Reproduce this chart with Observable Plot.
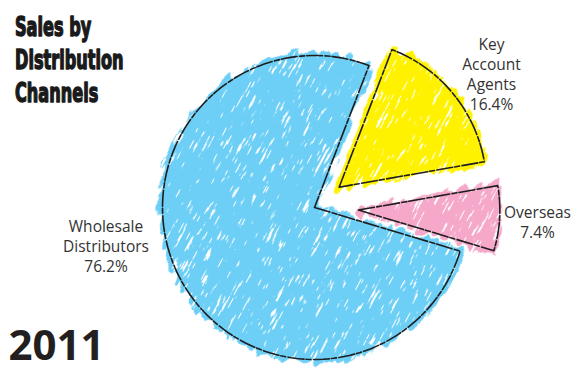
<!DOCTYPE html>
<html>
<head>
<meta charset="utf-8">
<script src="https://cdn.jsdelivr.net/npm/d3@7"></script>
<script src="https://cdn.jsdelivr.net/npm/@observablehq/plot@0.6"></script>
<style>
  html, body { margin: 0; padding: 0; background: #fff; }
  #chart svg { display: block; }
</style>
</head>
<body>
<div id="chart"></div>
<script>
// ---- data ----
const categories = ["Key Account Agents", "Overseas", "Wholesale Distributors"];
const labelText = ["Key\nAccount\nAgents", "Overseas", "Wholesale\nDistributors"];
const shares = [16.4, 7.4, 76.2];
const titleText = "Sales by\nDistribution\nChannels";
const yearText = "2011";

// ---- layout / style ----
const colors = ["#FFF200", "#F5A8CA", "#6DCFF6"];
const startDeg = 21;
const explode = [0.21, 0.29, 0];
const sliceRadius = [0.97, 0.93, 1];
const labelDist = [1.46, 1.47, 1.394];
const labelShift = [2.4, 0.2, 15.9];
const W = 580, H = 368, R = 152, CX = 314, CY = 207;

const rad = Math.PI / 180;
const arcs = d3.pie().sort(null).value(d => d)
  .startAngle(startDeg * rad).endAngle(startDeg * rad + 2 * Math.PI)(shares);

const slices = arcs.map((a, i) => {
  const mid = (a.startAngle + a.endAngle) / 2;
  const ox = explode[i] * Math.sin(mid), oy = explode[i] * Math.cos(mid);
  const r = sliceRadius[i];
  const n = Math.max(8, Math.round((a.endAngle - a.startAngle) / (2 * rad)));
  const pts = [{x: ox, y: oy}];
  for (let k = 0; k <= n; k++) {
    const t = a.startAngle + (a.endAngle - a.startAngle) * k / n;
    pts.push({x: ox + r * Math.sin(t), y: oy + r * Math.cos(t)});
  }
  pts.push({x: ox, y: oy});
  const la = mid + labelShift[i] * rad;
  return {
    name: categories[i], color: colors[i], pts,
    label: {x: labelDist[i] * Math.sin(la), y: labelDist[i] * Math.cos(la),
            text: labelText[i] + "\n" + shares[i].toFixed(1) + "%"}
  };
});

const marks = [];
for (const s of slices) {
  marks.push(Plot.line(s.pts, {x: "x", y: "y", fill: s.color, stroke: s.color, strokeWidth: 7,
    strokeLinejoin: "round", curve: "linear", ariaDescription: "slicefill"}));
}
for (const s of slices) {
  marks.push(Plot.line(s.pts, {x: "x", y: "y", stroke: "#1e1e1e", strokeWidth: 1.6,
    strokeDasharray: "16,2.5,5,2", curve: "linear"}));
}
marks.push(Plot.text(slices.map(s => s.label), {x: "x", y: "y", text: "text",
  fontSize: 15.5, lineHeight: 1.3, fill: "#333", fontFamily: "Open Sans"}));
marks.push(Plot.text([titleText], {text: d => d, frameAnchor: "top-left", textAnchor: "start",
  lineAnchor: "top", fontSize: 26, fontWeight: "bold",
  fontFamily: "DejaVu Sans Condensed", lineHeight: 1.27, fill: "#1a1a1a",
  stroke: "#1a1a1a", strokeWidth: 1.4, ariaDescription: "charttitle"}));
marks.push(Plot.text([yearText], {text: d => d, frameAnchor: "top-left", textAnchor: "start",
  lineAnchor: "top", dx: 8, dy: 330, fontSize: 42, fontWeight: "bold",
  fontFamily: "Open Sans", fill: "#231f20"}));

const chart = Plot.plot({
  width: W, height: H, margin: 0,
  x: {domain: [-CX / R, (W - CX) / R], axis: null},
  y: {domain: [-(H - CY) / R, CY / R], axis: null},
  marks
});

// hand-drawn scribble texture (sparse diagonal white flecks, rough edges)
const ns = "http://www.w3.org/2000/svg";
const defs = document.createElementNS(ns, "defs");
defs.innerHTML = `
<filter id="scribble" x="-10%" y="-10%" width="120%" height="120%">
  <feTurbulence type="fractalNoise" baseFrequency="0.04 0.12" numOctaves="2" seed="4" result="noise"/>
  <feDisplacementMap in="SourceGraphic" in2="noise" scale="16" xChannelSelector="R" yChannelSelector="G" result="disp"/>
  <feTurbulence type="turbulence" baseFrequency="0.045 0.28" numOctaves="2" seed="11" result="streak"/>
  <feColorMatrix in="streak" type="matrix" values="0 0 0 0 0  0 0 0 0 0  0 0 0 0 0  -12 0 0 0 6.4" result="mask"/>
  <feComposite in="disp" in2="mask" operator="in"/>
</filter>`;
chart.insertBefore(defs, chart.firstChild);
chart.querySelectorAll('g[aria-description="slicefill"]').forEach(g => {
  const outer = document.createElementNS(ns, "g");
  const inner = document.createElementNS(ns, "g");
  outer.setAttribute("transform", "rotate(-62 290 184)");
  outer.setAttribute("filter", "url(#scribble)");
  inner.setAttribute("transform", "rotate(62 290 184)");
  g.parentNode.insertBefore(outer, g);
  outer.appendChild(inner);
  inner.appendChild(g);
});
const tg = chart.querySelector('g[aria-description="charttitle"]');
if (tg) tg.setAttribute("transform", "translate(15,13) scale(0.69,1)");
document.getElementById("chart").appendChild(chart);
</script>
</body>
</html>
